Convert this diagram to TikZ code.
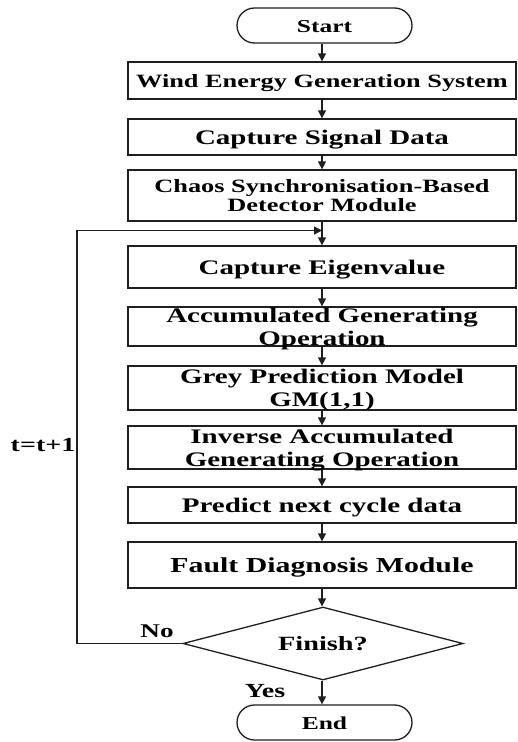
\documentclass[tikz,border=0pt]{standalone}
\usepackage{fontspec}
\usepackage{graphicx}
\setmainfont{Liberation Serif}
\usetikzlibrary{shapes.geometric,shapes.misc,arrows.meta}

% wide bold text: size, line spacing, lines
\newcommand\widetxt[3]{{\fontsize{#1}{#2}\selectfont\bfseries
  \scalebox{1.4}[1]{\begin{tabular}{@{}c@{}}#3\end{tabular}}}}

\tikzset{
  ln/.style={draw=black!88, line width=1.3pt},
  flow/.style={ln, -{Triangle[length=8pt,width=8pt]}},
  stepbox/.style={ln, rectangle, minimum width=388pt, inner sep=0pt},
  term/.style={ln, rounded rectangle, minimum width=175pt, minimum height=35pt, inner sep=0pt},
  decide/.style={ln, diamond, minimum width=280pt, minimum height=73pt, inner sep=0pt},
  txt/.style={inner sep=0pt, yshift=-2.5pt},
}

\begin{document}
\begin{tikzpicture}[x=1pt, y=-1pt]
\useasboundingbox (0,0) rectangle (517,742);

% terminals
\node[term] (start) at (324.5,25.5) {};
\node[txt] (startt) at (start) {\widetxt{18.2}{20}{Start}};

% process boxes
\node[stepbox, minimum height=37pt] (b1) at (322,80.5) {};
\node[stepbox, minimum height=36pt] (b2) at (322,137) {};
\node[stepbox, minimum height=51pt] (b3) at (322,195.5) {};
\node[stepbox, minimum height=42pt] (b4) at (322,267) {};
\node[stepbox, minimum height=39pt] (b5) at (322,326.5) {};
\node[stepbox, minimum height=44pt] (b6) at (322,388) {};
\node[stepbox, minimum height=43pt] (b7) at (322,447.5) {};
\node[stepbox, minimum height=36pt] (b8) at (322,505) {};
\node[stepbox, minimum height=46pt] (b9) at (322,565) {};

\node[txt] (t1) at (b1) {\widetxt{18.8}{20}{Wind Energy Generation System}};
\node[txt] (t2) at (b2) {\widetxt{20.7}{23}{Capture Signal Data}};
\node[txt] (t3) at (b3) {\widetxt{18.8}{19.5}{Chaos Synchronisation-Based\\Detector Module}};
\node[txt] (t4) at (b4) {\widetxt{20.7}{23}{Capture Eigenvalue}};
\node[txt] (t5) at (b5) {\widetxt{20.7}{23}{Accumulated Generating\\Operation}};
\node[txt] (t6) at (b6) {\widetxt{20.7}{23}{Grey Prediction Model\\GM(1,1)}};
\node[txt] (t7) at (b7) {\widetxt{20.7}{23}{Inverse Accumulated\\Generating Operation}};
\node[txt] (t8) at (b8) {\widetxt{20.7}{23}{Predict next cycle data}};
\node[txt] (t9) at (b9) {\widetxt{21.3}{23}{Fault Diagnosis Module}};

% decision and end
\node[decide] (fin) at (323,643.5) {};
\node[txt] (fint) at (fin) {\widetxt{20.2}{23}{Finish?}};
\node[term] (end) at (324.5,722.5) {};
\node[txt] (endt) at (end) {\widetxt{18.2}{20}{End}};

% main flow
\draw[flow] (start.south -| b1.north) -- (b1.north);
\draw[flow] (b1) -- (b2);
\draw[flow] (b2) -- (b3);
\draw[flow] (b3) -- (b4);
\draw[flow] (b4) -- (b5);
\draw[flow] (b5) -- (b6);
\draw[flow] (b6) -- (b7);
\draw[flow] (b7) -- (b8);
\draw[flow] (b8) -- (b9);
\draw[flow] (b9.south) -- (fin.north -| b9.south);
\draw[flow] (fin.south -| b9.south) -- (end.north -| b9.south);

% feedback loop
\coordinate (loopin) at (322,230.5);
\coordinate (loopcorner) at (77,230.5);
\draw[flow] (fin.west) -| (loopcorner) -- (loopin);

% labels
\node[txt] (tinc) at (43,444) {\widetxt{20}{23}{t=t+1}};
\node[txt] (no) at (157,631) {\widetxt{19.4}{22}{No}};
\node[txt] (yes) at (265,691) {\widetxt{20}{22}{Yes}};
\end{tikzpicture}
\end{document}
